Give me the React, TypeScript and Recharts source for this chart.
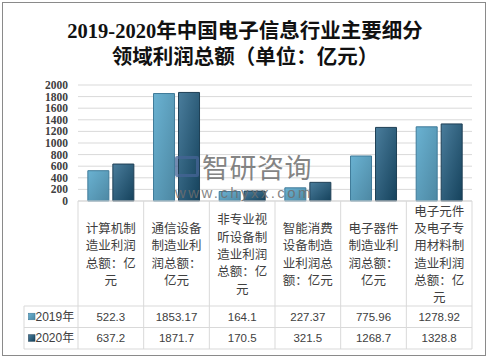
import React from 'react';
import { BarChart, Bar, XAxis, YAxis, CartesianGrid } from 'recharts';

const categories = [
  '计算机制造业利润总额：亿元',
  '通信设备制造业利润总额：亿元',
  '非专业视听设备制造业利润总额：亿元',
  '智能消费设备制造业利润总额：亿元',
  '电子器件制造业利润总额：亿元',
  '电子元件及电子专用材料制造业利润总额：亿元',
];
const values2019 = [522.3, 1853.17, 164.1, 227.37, 775.96, 1278.92];
const values2020 = [637.2, 1871.7, 170.5, 321.5, 1268.7, 1328.8];
const seriesNames = ['2019年', '2020年'];
const yTicks = [0, 200, 400, 600, 800, 1000, 1200, 1400, 1600, 1800, 2000];
const titleLines = ['2019-2020年中国电子信息行业主要细分', '领域利润总额（单位：亿元）'];

const data = categories.map((c, i) => ({ name: c, v2019: values2019[i], v2020: values2020[i] }));

const W = 490;
const H = 361;
const MARGIN = { top: 85, right: 18, left: 8, bottom: 10 };
const Y_W = 70;
const X_H = 150;
const PLOT_W = W - MARGIN.left - MARGIN.right - Y_W;
const BW = PLOT_W / categories.length;
const GRID = '#d9d9d9';
const TEXT = '#404040';

const chunk = (s: string, n: number) => {
  const arr = Array.from(s);
  const out: string[] = [];
  for (let i = 0; i < arr.length; i += n) out.push(arr.slice(i, i + n).join(''));
  return out;
};

const CAT_H = 105;
const ROW_H = 21.5;
const LEG_W = 54;

const TableTick = (props: any) => {
  const { x, y, payload } = props;
  const i = payload.index;
  const half = BW / 2;
  const lines = chunk(categories[i], 4);
  const lh = 17.3;
  const cy = y + CAT_H / 2;
  const startY = cy - ((lines.length - 1) * lh) / 2;
  const r1 = y + CAT_H;
  const r2 = r1 + ROW_H;
  const r3 = r2 + ROW_H;
  const left = x - half;
  const right = left + BW * categories.length;
  return (
    <g>
      <line x1={x + half} y1={y} x2={x + half} y2={r3} stroke={GRID} />
      {i === 0 && (
        <g>
          <line x1={left} y1={y} x2={left} y2={r3} stroke={GRID} />
          <line x1={left - LEG_W} y1={r1} x2={left - LEG_W} y2={r3} stroke={GRID} />
          <line x1={left - LEG_W} y1={r1} x2={right} y2={r1} stroke={GRID} />
          <line x1={left - LEG_W} y1={r2} x2={right} y2={r2} stroke={GRID} />
          <line x1={left - LEG_W} y1={r3} x2={right} y2={r3} stroke={GRID} />
          {seriesNames.map((s, k) => {
            const cyy = r1 + ROW_H * k + ROW_H / 2;
            return (
              <g key={s}>
                <rect x={left - LEG_W + 4.5} y={cyy - 3.5} width={6.5} height={6.5}
                  fill={k === 0 ? 'url(#g2019)' : 'url(#g2020)'} stroke={k === 0 ? '#3f7a99' : '#1e3f55'} strokeWidth={0.6} />
                <text x={left - LEG_W + 11.5} y={cyy} dominantBaseline="central" fontSize={12}
                  fontFamily="'Liberation Sans', 'Noto Sans CJK SC', sans-serif" fill={TEXT}>{s}</text>
              </g>
            );
          })}
        </g>
      )}
      {lines.map((t, k) => (
        <text key={k} x={x} y={startY + k * lh} textAnchor="middle" dominantBaseline="central"
          fontSize={12.5} fontFamily="'Noto Sans CJK SC', sans-serif" fill={TEXT}>{t}</text>
      ))}
      <text x={x} y={r1 + ROW_H / 2} textAnchor="middle" dominantBaseline="central" fontSize={11.5}
        fontFamily="'Liberation Sans', sans-serif" fill={TEXT}>{String(values2019[i])}</text>
      <text x={x} y={r2 + ROW_H / 2} textAnchor="middle" dominantBaseline="central" fontSize={11.5}
        fontFamily="'Liberation Sans', sans-serif" fill={TEXT}>{String(values2020[i])}</text>
    </g>
  );
};

export default function App() {
  return (
    <div style={{ position: 'absolute', left: 0, top: 0, width: W, height: H, background: '#fff' }}>
      <div style={{ position: 'absolute', left: 2, top: 2, width: 482, height: 352, border: '1.5px solid #8a8a8a' }} />
      <div style={{ position: 'absolute', left: 0, top: 18, width: W, textAlign: 'center',
        fontFamily: "'Liberation Serif', 'Noto Sans CJK SC', serif", fontWeight: 700, fontSize: 20.5,
        lineHeight: '26px', color: '#111' }}>
        {titleLines.map((t) => <div key={t}>{t}</div>)}
      </div>
      <div style={{ position: 'absolute', left: 0, top: 0 }}>
        <BarChart width={W} height={H} data={data} margin={MARGIN} barCategoryGap="15%" barGap={4}>
          <defs>
            <linearGradient id="g2019" x1="0" y1="0" x2="1" y2="1">
              <stop offset="0%" stopColor="#6ab2d2" />
              <stop offset="100%" stopColor="#4d88a3" />
            </linearGradient>
            <linearGradient id="g2020" x1="0" y1="0" x2="1" y2="1">
              <stop offset="0%" stopColor="#4a7d9c" />
              <stop offset="100%" stopColor="#15425c" />
            </linearGradient>
          </defs>
          <CartesianGrid vertical={false} stroke={GRID} />
          <XAxis dataKey="name" height={X_H} tickLine={false} tickSize={0} tickMargin={0}
            axisLine={{ stroke: GRID }} interval={0} tick={<TableTick />} />
          <YAxis width={Y_W} domain={[0, 2000]} ticks={yTicks} axisLine={false} tickLine={false}
            tickSize={0} tickMargin={10} interval={0}
            tick={{ fontSize: 11.5, fontFamily: "'Liberation Serif', serif", fontWeight: 700, fill: TEXT }} />
          <Bar dataKey="v2019" name={seriesNames[0]} fill="url(#g2019)" stroke="#3f7a99" strokeWidth={1} isAnimationActive={false} />
          <Bar dataKey="v2020" name={seriesNames[1]} fill="url(#g2020)" stroke="#1e3f55" strokeWidth={1} isAnimationActive={false} />
        </BarChart>
      </div>
      <div style={{ position: 'absolute', left: 175, top: 156, width: 24, height: 21, border: '3px solid rgba(70,100,150,0.75)',
        boxSizing: 'border-box', borderRadius: 2 }} />
      <div style={{ position: 'absolute', left: 202, top: 150, fontFamily: "'Noto Sans CJK SC', sans-serif",
        fontSize: 27, lineHeight: '34px', color: 'rgba(110,110,110,0.85)', letterSpacing: 0.5 }}>智研咨询</div>
      <div style={{ position: 'absolute', left: 175, top: 184, fontFamily: "'Liberation Sans', sans-serif",
        fontSize: 15, lineHeight: '18px', color: 'rgba(110,110,110,0.85)', letterSpacing: 2.4 }}>www.chyxx.com</div>
    </div>
  );
}
